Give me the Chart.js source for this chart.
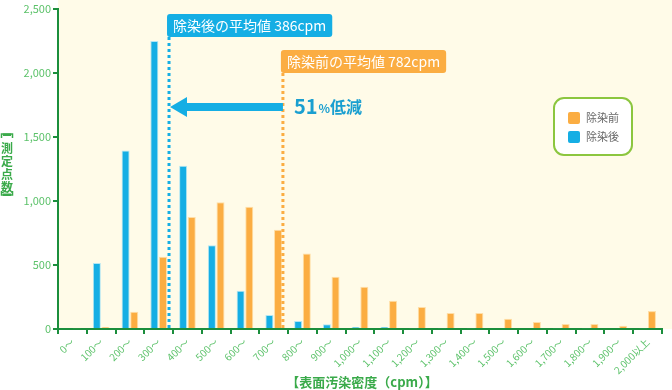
<!DOCTYPE html>
<html>
<head>
<meta charset="utf-8">
<script src="https://cdn.jsdelivr.net/npm/chart.js@4"></script>
<style>
  html, body { margin: 0; padding: 0; background: #fff; }
  canvas { display: block; }
</style>
</head>
<body>
<canvas id="chart" width="672" height="390"></canvas>
<script>
// categories (cpm bins)
const categories = ['0〜', '100〜', '200〜', '300〜', '400〜', '500〜', '600〜', '700〜', '800〜', '900〜',
  '1,000〜', '1,100〜', '1,200〜', '1,300〜', '1,400〜', '1,500〜', '1,600〜', '1,700〜', '1,800〜', '1,900〜', '2,000以上'];

// 除染後 (after decontamination)
const afterValues = [8, 515, 1395, 2250, 1275, 655, 298, 110, 62, 38, 15, 15, 6, 6, 6, 0, 0, 6, 6, 0, 6];
// 除染前 (before decontamination)
const beforeValues = [6, 15, 135, 565, 875, 990, 955, 775, 590, 408, 330, 220, 172, 125, 125, 80, 55, 40, 40, 25, 140];

const yTicks = [0, 500, 1000, 1500, 2000, 2500];
const avgAfter = 386;
const avgBefore = 782;
const reduction = 51;

const blue = '#15aee4';
const orange = '#fbad42';
const axisGreen = '#1b8e3c';
const labelGreen = '#5cc26a';
const titleGreen = '#3aaa4a';
const font = '"Noto Sans CJK JP", "Noto Sans", sans-serif';

function roundRect(ctx, x, y, w, h, r) {
  ctx.beginPath();
  ctx.moveTo(x + r, y);
  ctx.arcTo(x + w, y, x + w, y + h, r);
  ctx.arcTo(x + w, y + h, x, y + h, r);
  ctx.arcTo(x, y + h, x, y, r);
  ctx.arcTo(x, y, x + w, y, r);
  ctx.closePath();
}

const background = {
  id: 'background',
  beforeDraw(chart) {
    const { ctx, chartArea } = chart;
    ctx.save();
    ctx.fillStyle = '#ffffff';
    ctx.fillRect(0, 0, chart.width, chart.height);
    ctx.fillStyle = '#fffbe8';
    ctx.fillRect(chartArea.left, 0, chart.width - chartArea.left, chartArea.bottom);
    ctx.restore();
  }
};

const overlay = {
  id: 'overlay',
  afterDatasetsDraw(chart) {
    const { ctx, chartArea } = chart;
    const x2 = chart.scales.x2;
    const xa = x2.getPixelForValue(avgAfter / 100);
    const xb = x2.getPixelForValue(avgBefore / 100);
    ctx.save();

    // dotted average lines
    ctx.lineWidth = 3;
    ctx.setLineDash([3, 3]);
    ctx.strokeStyle = blue;
    ctx.beginPath(); ctx.moveTo(xa, 37); ctx.lineTo(xa, chartArea.bottom); ctx.stroke();
    ctx.strokeStyle = orange;
    ctx.beginPath(); ctx.moveTo(xb, 73); ctx.lineTo(xb, chartArea.bottom); ctx.stroke();
    ctx.setLineDash([]);

    // label boxes
    ctx.font = '14px ' + font;
    ctx.textBaseline = 'middle';
    ctx.textAlign = 'left';
    let t = '除染後の平均値 ' + avgAfter + 'cpm';
    let w = ctx.measureText(t).width + 12;
    ctx.fillStyle = blue;
    roundRect(ctx, xa - 2, 14, w, 23, 3); ctx.fill();
    ctx.fillStyle = '#fff';
    ctx.fillText(t, xa + 4, 26);

    t = '除染前の平均値 ' + avgBefore + 'cpm';
    w = ctx.measureText(t).width + 12;
    ctx.fillStyle = orange;
    roundRect(ctx, xb - 2, 50, w, 23, 3); ctx.fill();
    ctx.fillStyle = '#fff';
    ctx.fillText(t, xb + 4, 62);

    // arrow
    const ay = 107;
    ctx.fillStyle = blue;
    ctx.fillRect(xa + 17, ay - 4, xb - xa - 17, 8);
    ctx.beginPath();
    ctx.moveTo(xa + 1, ay);
    ctx.lineTo(xa + 18, ay - 10);
    ctx.lineTo(xa + 18, ay + 10);
    ctx.closePath();
    ctx.fill();

    // 51%低減
    ctx.fillStyle = '#1a9fd0';
    ctx.textBaseline = 'alphabetic';
    let px = xb + 11;
    ctx.font = 'bold 20px ' + font;
    ctx.fillText(String(reduction), px, 114);
    px += ctx.measureText(String(reduction)).width + 1;
    ctx.font = 'bold 12px ' + font;
    ctx.fillText('%', px, 113);
    px += ctx.measureText('%').width;
    ctx.font = 'bold 16px ' + font;
    ctx.fillText('低減', px, 113);

    // legend
    ctx.fillStyle = '#ffffff';
    ctx.strokeStyle = '#8cc63f';
    ctx.lineWidth = 2;
    roundRect(ctx, 554, 98, 78, 57, 10);
    ctx.fill(); ctx.stroke();
    const items = chart.data.datasets.slice().reverse();
    ctx.font = '11px ' + font;
    ctx.textBaseline = 'middle';
    items.forEach((ds, i) => {
      const y = 118 + i * 19;
      ctx.fillStyle = ds.backgroundColor;
      roundRect(ctx, 568, y - 6, 12, 12, 2); ctx.fill();
      ctx.fillStyle = '#666';
      ctx.fillText(ds.label, 586, y);
    });

    // y title (vertical, upright characters)
    ctx.fillStyle = titleGreen;
    ctx.strokeStyle = titleGreen;
    ctx.font = 'bold 12px ' + font;
    ctx.textAlign = 'center';
    ['測', '定', '点', '数'].forEach((c, i) => ctx.fillText(c, 7, 148 + i * 13));
    ctx.lineWidth = 1.5;
    ctx.beginPath();
    ctx.moveTo(1.5, 138); ctx.lineTo(1.5, 134); ctx.lineTo(12.5, 134); ctx.lineTo(12.5, 138);
    ctx.moveTo(1.5, 191); ctx.lineTo(1.5, 195); ctx.lineTo(12.5, 195); ctx.lineTo(12.5, 191);
    ctx.stroke();
    ctx.fillRect(3, 133.5, 8, 2.5);
    ctx.fillRect(3, 193.5, 8, 2.5);

    // x title
    ctx.font = 'bold 13px ' + font;
    ctx.fillText('【表面汚染密度（cpm）】', 362, 382);
    ctx.restore();
  }
};

new Chart(document.getElementById('chart'), {
  type: 'bar',
  data: {
    labels: categories,
    datasets: [
      { label: '除染後', data: afterValues, backgroundColor: blue, borderColor: 'rgba(160,225,245,0.8)', borderWidth: 1 },
      { label: '除染前', data: beforeValues, backgroundColor: orange, borderColor: 'rgba(255,215,150,0.8)', borderWidth: 1 }
    ]
  },
  options: {
    responsive: false,
    animation: false,
    devicePixelRatio: 1,
    layout: { padding: { top: 9, right: 10, left: 0, bottom: 0 } },
    datasets: { bar: { categoryPercentage: 0.6, barPercentage: 0.93 } },
    plugins: { legend: { display: false }, tooltip: { enabled: false } },
    scales: {
      x: {
        offset: true,
        grid: { drawOnChartArea: false, drawTicks: true, tickLength: 5, color: axisGreen, offset: true, lineWidth: 2 },
        border: { color: axisGreen, width: 2 },
        ticks: { color: labelGreen, font: { size: 10, family: font }, maxRotation: 45, minRotation: 45, autoSkip: false, padding: 2 },
        afterFit: s => { s.height = 61; }
      },
      x2: { type: 'linear', axis: 'x', offset: false, min: 0, max: categories.length, display: false },
      y: {
        min: 0,
        max: 2500,
        afterBuildTicks: s => { s.ticks = yTicks.map(v => ({ value: v })); },
        grid: { drawOnChartArea: false, drawTicks: true, tickLength: 5, color: axisGreen, lineWidth: 2 },
        border: { color: axisGreen, width: 2 },
        ticks: {
          color: labelGreen,
          font: { size: 11, family: font },
          padding: 2,
          callback: v => v.toLocaleString('en-US')
        },
        afterFit: s => { s.width = 58; }
      }
    }
  },
  plugins: [background, overlay]
});
</script>
</body>
</html>
